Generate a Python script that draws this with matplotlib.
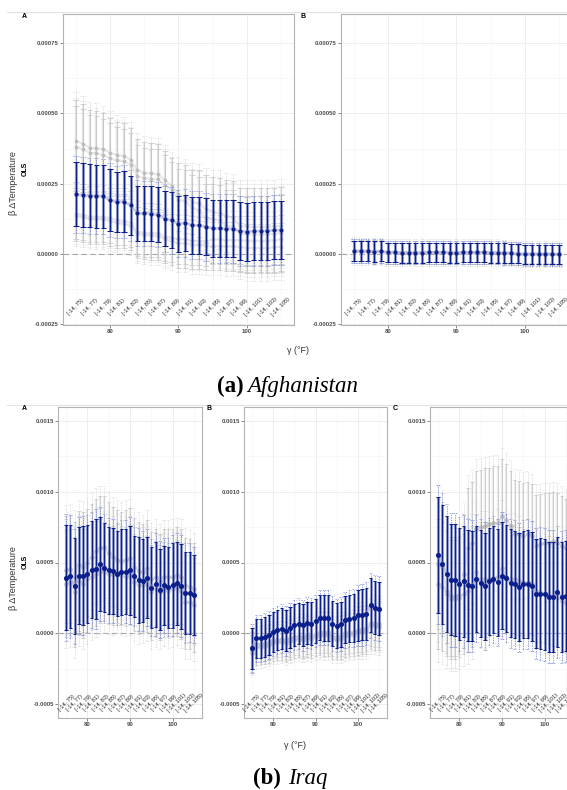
import numpy as np
import matplotlib.pyplot as plt
from matplotlib.lines import Line2D

plt.rcParams['font.family'] = ['Liberation Sans', 'DejaVu Sans']

W, H = 567, 790

# temperature thresholds (deg F) and the bin labels written above the axis
gamma = list(range(75, 106))
bin_x = list(range(75, 106, 2))
bins = ['[-14, %d)' % g for g in bin_x]

# coefficients and 95% half-widths, in units of 1e-6
afg_a_est = [212, 210, 207, 206, 205, 192, 185, 186, 173, 145, 145, 144, 140, 126, 120, 108,
             111, 103, 102, 97, 91, 91, 90, 90, 81, 80, 82, 82, 83, 85, 86]
afg_a_hw = [114, 113, 112, 112, 111, 110, 108, 108, 106, 98, 97, 97, 97, 98, 99, 100,
            100, 101, 101, 101, 102, 102, 102, 102, 103, 103, 103, 103, 103, 103, 103]
afg_a_g1 = [402, 392, 378, 376, 372, 360, 352, 349, 335, 298, 289, 287, 284, 263, 242, 212,
            205, 185, 180, 160, 150, 145, 135, 130, 100, 98, 97, 97, 97, 98, 100]
afg_a_g2 = [381, 372, 360, 358, 352, 340, 333, 330, 318, 276, 270, 268, 266, 246, 226, 192,
            188, 165, 155, 127, 123, 120, 100, 98, 72, 70, 70, 70, 70, 72, 75]
afg_a_g3 = [143, 140, 133, 133, 132, 128, 120, 118, 111, 80, 76, 75, 74, 62, 58, 52,
            52, 48, 47, 45, 52, 52, 50, 50, 50, 48, 48, 48, 48, 50, 52]
afg_a_g4 = [135, 132, 125, 125, 124, 118, 110, 108, 100, 72, 68, 66, 64, 54, 46, 38,
            38, 34, 32, 30, 28, 28, 27, 27, 25, 22, 22, 22, 22, 24, 26]
afg_a_ghw_up = [146, 142, 135, 133, 128, 124, 118, 116, 112, 110, 108, 107, 106, 105, 100, 110,
                112, 115, 118, 122, 125, 127, 128, 130, 135, 138, 138, 138, 138, 138, 138]
afg_a_ghw_lo = [90, 90, 89, 89, 88, 88, 87, 87, 86, 86, 86, 86, 86, 86, 86, 86,
                86, 86, 86, 86, 86, 86, 86, 86, 86, 86, 86, 86, 86, 86, 86]

afg_b_est = [11, 10, 10, 9, 10, 6, 6, 5, 5, 5, 5, 6, 6, 6, 5, 5,
             6, 6, 6, 6, 5, 5, 4, 3, 1, 0, 0, 0, 0, 0, -1]
afg_b_hw = [36, 36, 36, 36, 36, 35, 35, 35, 35, 35, 35, 35, 35, 35, 35, 35,
            35, 35, 35, 35, 35, 35, 35, 34, 34, 34, 34, 34, 34, 34, 34]
afg_b_g1 = [14, 13, 13, 12, 12, 9, 9, 8, 8, 8, 8, 9, 9, 9, 8, 8,
            9, 9, 9, 9, 8, 8, 7, 6, 4, 3, 3, 3, 3, 3, 2]
afg_b_g2 = [8, 7, 7, 6, 7, 3, 3, 2, 2, 2, 2, 3, 3, 3, 2, 2,
            3, 3, 3, 3, 2, 2, 1, 0, -2, -3, -3, -3, -3, -3, -4]
afg_b_ghw = [38, 38, 38, 38, 38, 37, 37, 37, 37, 37, 37, 37, 37, 37, 37, 37,
             37, 37, 37, 37, 37, 37, 37, 36, 36, 36, 36, 36, 36, 36, 36]

irq_a_est = [392, 401, 331, 408, 408, 420, 448, 455, 490, 462, 444, 440, 420, 432, 436, 444,
             401, 378, 370, 392, 322, 345, 308, 338, 326, 338, 354, 331, 284, 287, 268]
irq_a_hw = [373, 364, 340, 345, 352, 345, 343, 353, 334, 315, 309, 304, 300, 305, 301, 316,
            289, 305, 294, 286, 286, 303, 285, 282, 287, 298, 294, 300, 293, 290, 282]
irq_a_g1 = [450, 455, 400, 480, 470, 500, 540, 580, 600, 608, 570, 540, 520, 510, 520, 530,
            470, 440, 430, 460, 380, 400, 370, 400, 400, 400, 410, 400, 340, 330, 310]
irq_a_g2 = [350, 360, 290, 370, 350, 380, 400, 420, 440, 430, 420, 410, 420, 410, 400, 410,
            360, 340, 340, 350, 290, 310, 290, 310, 300, 310, 320, 300, 220, 220, 200]
irq_a_ghw = [380, 380, 390, 385, 385, 380, 375, 372, 370, 360, 355, 350, 350, 350, 350, 352,
             345, 345, 340, 340, 335, 340, 335, 335, 335, 338, 338, 338, 335, 335, 330]

irq_b_est = [-108, -37, -37, -26, -14, 9, 21, 33, 16, 40, 56, 68, 56, 73, 68, 87,
             110, 110, 108, 68, 54, 63, 96, 103, 108, 127, 131, 138, 197, 181, 174]
irq_b_hw = [146, 140, 140, 140, 140, 141, 142, 143, 145, 146, 148, 148, 150, 150, 152, 153,
            160, 162, 162, 160, 158, 160, 165, 168, 172, 180, 182, 185, 190, 190, 190]
irq_b_g1 = [-120, -80, -75, -70, -65, -50, -45, -40, -50, -35, -25, -20, -25, -15, -20, -5,
            5, 5, 5, -20, -25, -20, 0, 5, 10, 25, 30, 35, 75, 70, 65]
irq_b_g2 = [-143, -100, -95, -90, -85, -70, -65, -60, -70, -55, -45, -40, -45, -35, -40, -25,
            -15, -15, -15, -40, -45, -40, -20, -15, -10, 5, 10, 15, 55, 50, 45]
irq_b_ghw = [130, 125, 125, 125, 125, 126, 127, 128, 130, 130, 132, 132, 134, 134, 136, 137,
             142, 144, 144, 142, 140, 142, 146, 148, 152, 158, 160, 162, 166, 166, 166]

irq_c_est = [556, 486, 420, 378, 378, 350, 366, 338, 333, 385, 354, 333, 366, 380, 359, 408,
             389, 354, 345, 326, 345, 350, 333, 280, 280, 275, 256, 256, 291, 256, 263]
irq_c_hw = [410, 420, 410, 394, 395, 395, 392, 390, 388, 375, 378, 378, 376, 376, 376, 376,
            378, 380, 380, 380, 380, 382, 385, 388, 390, 392, 392, 392, 390, 390, 387]
irq_c_g1 = [490, 470, 300, 260, 260, 270, 420, 600, 640, 740, 750, 760, 770, 780, 780, 830,
            800, 760, 700, 700, 690, 700, 690, 620, 630, 640, 640, 650, 640, 620, 600]
irq_c_g2 = [350, 330, 280, 240, 240, 250, 280, 300, 330, 430, 380, 380, 380, 390, 400, 460,
            400, 380, 380, 370, 360, 360, 350, 300, 290, 280, 270, 260, 250, 230, 210]
irq_c_ghw = [460, 455, 440, 420, 420, 420, 425, 430, 430, 410, 405, 405, 400, 400, 400, 400,
             395, 390, 385, 380, 375, 370, 365, 360, 355, 350, 350, 350, 350, 350, 350]

NAVY = '#0b1f8c'
BAND = '#6270bd'
DASH_BLUE = '#7383d2'
LINE_BLUE = '#9aa1cc'
GREY_PT = '#b8b8b8'
GREY_BAR = '#c8c8c8'
GREY_DASH = '#d8d8d8'
DASHES = (0, (2, 1.5))
OUTER = 1.2


def bars(ax, x, lo, hi, color, lw, width, ls='-', alpha=1.0, z=2):
    ax.vlines(x, lo, hi, colors=color, linewidth=lw, linestyles=ls, alpha=alpha, zorder=z)
    xs = np.concatenate([x, x])
    ys = np.concatenate([lo, hi])
    ax.hlines(ys, xs - width / 2, xs + width / 2, colors=color, linewidth=lw,
              linestyles=ls, alpha=alpha, zorder=z)


def draw_panel(ax, est, hw, greys, ylim, yticks, ylabels, yminor, label_y, ms):
    x = np.array(gamma, dtype=float)
    for g_est, g_hw in greys:
        g = np.array(g_est) * 1e-6
        h = np.array(g_hw) * 1e-6
        bars(ax, x, g - OUTER * h, g + OUTER * h, GREY_DASH, 0.5, 0.8, ls=DASHES, z=1)
        ax.vlines(x, g - h, g + h, colors='#d6d6d6', linewidth=1.6, alpha=0.45, zorder=1.2)
        bars(ax, x, g - h, g + h, GREY_BAR, 0.55, 0.8, z=1.5)
        ax.plot(x, g, color='#cccccc', lw=1.5, alpha=0.45, zorder=1.6)
        ax.plot(x, g, 'o', color=GREY_PT, ms=ms * 0.9, mec='none', alpha=0.85, zorder=1.8)

    e = np.array(est) * 1e-6
    h = np.array(hw) * 1e-6
    bars(ax, x, e - OUTER * h, e + OUTER * h, DASH_BLUE, 0.5, 0.8, ls=DASHES, z=2)
    ax.vlines(x, e - h, e + h, colors=BAND, linewidth=2.2, alpha=0.65, zorder=2.2)
    bars(ax, x, e - h, e + h, NAVY, 0.75, 0.8, z=2.5)
    ax.plot(x, e, color=LINE_BLUE, lw=2.0, alpha=0.55, zorder=2.6)
    ax.plot(x, e, 'o', color=NAVY, ms=ms, mec='none', zorder=3)

    ax.axhline(0, color='#a6a6a6', lw=0.8, ls=(0, (5, 3)), zorder=0.8)
    for bx, txt in zip(bin_x, bins):
        ax.text(bx, label_y, txt, rotation=45, ha='center', va='center',
                fontsize=4, color='#222222', zorder=4)

    ax.set_xlim(73.1, 106.9)
    ax.set_ylim(*ylim)
    ax.set_xticks([80, 90, 100])
    ax.set_xticks([75, 85, 95, 105], minor=True)
    ax.set_yticks(yticks)
    ax.set_yticklabels(ylabels)
    ax.set_yticks(yminor, minor=True)
    ax.set_axisbelow(True)
    ax.grid(which='major', color='#ebebeb', lw=0.6)
    ax.grid(which='minor', color='#f4f4f4', lw=0.4)
    ax.tick_params(which='major', length=2, width=0.5, color='#555555', labelsize=4.3,
                   labelcolor='#4d4d4d', pad=1)
    ax.tick_params(which='minor', length=0)
    for lbl in ax.get_xticklabels() + ax.get_yticklabels():
        lbl.set_fontweight('bold')
    for sp in ax.spines.values():
        sp.set_color('#b3b3b3')
        sp.set_linewidth(0.8)


def box(l, t, r, b):
    return [l / W, 1 - b / H, (r - l) / W, (b - t) / H]


def ftext(x, y, s, **kw):
    fig.text(x / W, 1 - y / H, s, **kw)


fig = plt.figure(figsize=(W / 100, H / 100), dpi=100)

top_lim = (-0.000252, 0.000853)
top_ticks = [-0.00025, 0, 0.00025, 0.0005, 0.00075]
top_labels = ['-0.00025', '0.00000', '0.00025', '0.00050', '0.00075']
top_minor = [-0.000125, 0.000125, 0.000375, 0.000625]

irq_lim = (-0.0006, 0.0016)
irq_ticks = [-0.0005, 0, 0.0005, 0.001, 0.0015]
irq_labels = ['-0.0005', '0.0000', '0.0005', '0.0010', '0.0015']
irq_minor = [-0.00025, 0.00025, 0.00075, 0.00125]

# (a) Afghanistan
ax = fig.add_axes(box(63, 14, 294, 325))
draw_panel(ax, afg_a_est, afg_a_hw,
           [(afg_a_g1, afg_a_ghw_up), (afg_a_g2, afg_a_ghw_up),
            (afg_a_g3, afg_a_ghw_lo), (afg_a_g4, afg_a_ghw_lo)],
           top_lim, top_ticks, top_labels, top_minor, -0.000188, 3.0)
ax = fig.add_axes(box(341, 14, 572, 325))
draw_panel(ax, afg_b_est, afg_b_hw, [(afg_b_g1, afg_b_ghw), (afg_b_g2, afg_b_ghw)],
           top_lim, top_ticks, top_labels, top_minor, -0.000188, 3.0)

# (b) Iraq
ax = fig.add_axes(box(58, 407, 202, 718))
draw_panel(ax, irq_a_est, irq_a_hw, [(irq_a_g1, irq_a_ghw), (irq_a_g2, irq_a_ghw)],
           irq_lim, irq_ticks, irq_labels, irq_minor, -0.00049, 3.7)
ax = fig.add_axes(box(244, 407, 387, 718))
draw_panel(ax, irq_b_est, irq_b_hw, [(irq_b_g1, irq_b_ghw), (irq_b_g2, irq_b_ghw)],
           irq_lim, irq_ticks, irq_labels, irq_minor, -0.00049, 3.7)
ax = fig.add_axes(box(430, 407, 574, 718))
draw_panel(ax, irq_c_est, irq_c_hw, [(irq_c_g1, irq_c_ghw), (irq_c_g2, irq_c_ghw)],
           irq_lim, irq_ticks, irq_labels, irq_minor, -0.00049, 3.7)

# thin frames along the top of each block
for yy in (12, 405):
    fig.add_artist(Line2D([7 / W, 1], [1 - yy / H] * 2, color='#e3e3e3', lw=0.8))

# panel letters
for px, py, s in [(24, 17, 'A'), (303, 17, 'B'), (24, 409, 'A'), (209, 409, 'B'), (395, 409, 'C')]:
    ftext(px, py, s, fontsize=5, fontweight='bold', ha='center', va='center')

# axis titles
for yc, yo in [(183, 169), (578, 562)]:
    ftext(13, yc, 'β ΔTemperature', rotation=90, fontsize=6.5, color='#333333',
          ha='center', va='center')
    ftext(25, yo, 'OLS', rotation=90, fontsize=5, fontweight='bold',
          ha='center', va='center')
ftext(298, 351, 'γ (°F)', fontsize=6.5, color='#333333', ha='center', va='center')
ftext(295, 745, 'γ (°F)', fontsize=6.5, color='#333333', ha='center', va='center')

# captions
ftext(217, 392, '(a)', family='Liberation Serif', fontweight='bold', fontsize=16.5, va='baseline')
ftext(247, 392, 'Afghanistan', family='Liberation Serif', style='italic', fontsize=16.5,
      va='baseline')
ftext(253, 784, '(b)', family='Liberation Serif', fontweight='bold', fontsize=16.5, va='baseline')
ftext(288, 784, 'Iraq', family='Liberation Serif', style='italic', fontsize=16.5, va='baseline')

fig.savefig('out.png', dpi=100)
